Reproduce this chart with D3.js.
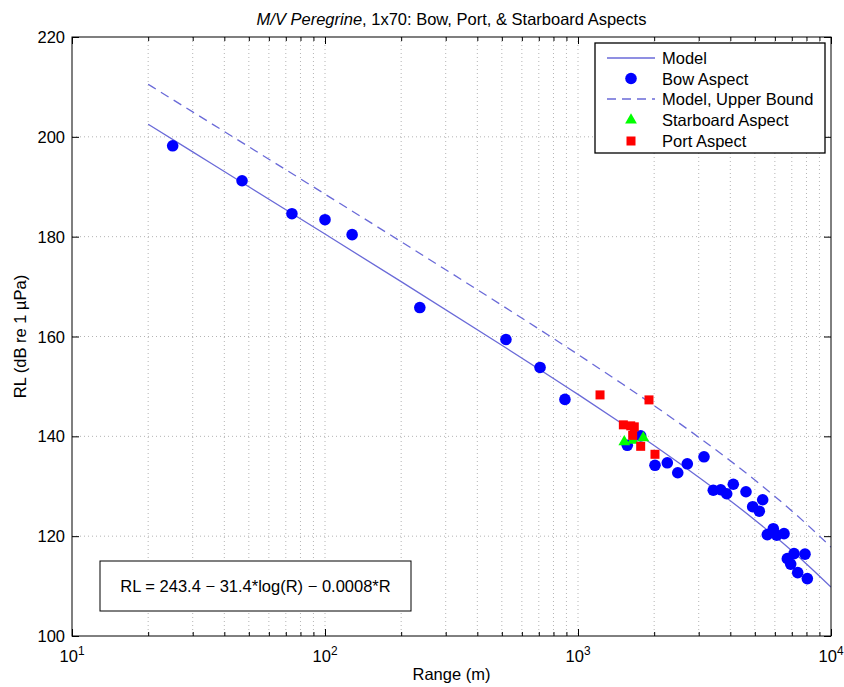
<!DOCTYPE html>
<html><head><meta charset="utf-8">
<script src="https://cdn.jsdelivr.net/npm/d3@7"></script>
<style>body{margin:0;background:#fff}svg{display:block}text{font-family:"Liberation Sans",Arial,Helvetica,sans-serif;fill:#000}</style>
</head><body><svg id="c" width="844" height="687"></svg>
<script>
// ---- data ----
const titleItalic = "M/V Peregrine";
const titleRest = ", 1x70: Bow, Port, & Starboard Aspects";
const xLabel = "Range (m)";
const yLabel = "RL (dB re 1 µPa)";
const equation = "RL = 243.4 \u2212 31.4*log(R) \u2212 0.0008*R";
const legendLabels = ["Model", "Bow Aspect", "Model, Upper Bound", "Starboard Aspect", "Port Aspect"];
const yTicks = [100, 120, 140, 160, 180, 200, 220];
const xMajorTicks = [10, 100, 1000, 10000];
const xTickExponents = ["1", "2", "3", "4"];

const modelRange = [20, 30, 50, 100, 200, 500, 1000, 1500, 2000, 2500, 3000, 4000, 5000, 6000, 7000, 8000, 10000];
const modelRL    = [202.53, 196.99, 190.01, 180.52, 170.99, 158.25, 148.40, 142.47, 138.15, 134.71, 131.82, 127.10, 123.25, 119.97, 117.06, 114.44, 109.80];
const upperRL    = [210.53, 204.99, 198.01, 188.52, 178.99, 166.25, 156.40, 150.47, 146.15, 142.71, 139.82, 135.10, 131.25, 127.97, 125.06, 122.44, 117.80];

const bowRange = [25, 47, 74, 100, 128, 237, 519, 708, 888, 1566, 1769, 2015, 2254, 2479, 2704, 3148, 3425, 3665, 3870, 4110, 4613, 4903, 5206, 5370, 5601, 5913, 6101, 6521, 6720, 7142, 7893, 6930, 7386, 8060];
const bowRL    = [198.2, 191.2, 184.6, 183.4, 180.4, 165.8, 159.4, 153.8, 147.4, 138.2, 140.1, 134.2, 134.7, 132.7, 134.5, 135.9, 129.2, 129.3, 128.5, 130.4, 128.9, 125.9, 125.0, 127.3, 120.3, 121.5, 120.2, 120.5, 115.5, 116.5, 116.4, 114.4, 112.7, 111.5];

const starRange = [1524, 1650, 1812];
const starRL    = [138.9, 139.2, 139.7];

const portRange = [1222, 1908, 1511, 1616, 1669, 1645, 1769, 2015];
const portRL    = [148.3, 147.3, 142.3, 142.1, 141.9, 140.2, 138.0, 136.4];

// ---- layout ----
const L = 72, R = 831, T = 37, B = 636;
const FS = 16.5;
const lineColor = "#6a6ad8";
const svg = d3.select("#c");
const x = d3.scaleLog().domain([10, 10000]).range([L, R]);
const y = d3.scaleLinear().domain([100, 220]).range([B, T]);

// minor tick values
const xMinor = [];
for (let d = 10; d < 10000; d *= 10) for (let k = 2; k <= 9; k++) xMinor.push(d * k);

// grid
const grid = svg.append("g").attr("stroke", "#b4b4b4").attr("stroke-width", 1).attr("stroke-dasharray", "1,3");
xMinor.concat(xMajorTicks.slice(1, -1)).forEach(v => {
  grid.append("line").attr("x1", x(v)).attr("x2", x(v)).attr("y1", T).attr("y2", B);
});
yTicks.slice(1, -1).forEach(v => {
  grid.append("line").attr("x1", L).attr("x2", R).attr("y1", y(v)).attr("y2", y(v));
});

// axes with d3 axis generators (ticks inward)
const axB = d3.axisBottom(x).tickValues(xMajorTicks).tickSize(-7).tickFormat("");
const axT = d3.axisTop(x).tickValues(xMajorTicks).tickSize(-7).tickFormat("");
const axBm = d3.axisBottom(x).tickValues(xMinor).tickSize(-4).tickFormat("");
const axTm = d3.axisTop(x).tickValues(xMinor).tickSize(-4).tickFormat("");
const axL = d3.axisLeft(y).tickValues(yTicks).tickSize(-7).tickFormat("");
const axR = d3.axisRight(y).tickValues(yTicks).tickSize(-7).tickFormat("");
function styleAxis(g) { g.select(".domain").remove(); g.selectAll("line").attr("stroke", "#000"); }
svg.append("g").attr("transform", `translate(0,${B})`).call(axB).call(styleAxis);
svg.append("g").attr("transform", `translate(0,${T})`).call(axT).call(styleAxis);
svg.append("g").attr("transform", `translate(0,${B})`).call(axBm).call(styleAxis);
svg.append("g").attr("transform", `translate(0,${T})`).call(axTm).call(styleAxis);
svg.append("g").attr("transform", `translate(${L},0)`).call(axL).call(styleAxis);
svg.append("g").attr("transform", `translate(${R},0)`).call(axR).call(styleAxis);

// tick labels
yTicks.forEach(v => {
  svg.append("text").attr("x", L - 7).attr("y", y(v) + 6).attr("text-anchor", "end")
    .attr("font-size", FS).text(v);
});
xMajorTicks.forEach((v, i) => {
  const t = svg.append("text").attr("x", x(v)).attr("y", B + 26).attr("text-anchor", "middle").attr("font-size", FS);
  t.append("tspan").text("10");
  t.append("tspan").attr("dy", -7).attr("font-size", FS * 0.72).text(xTickExponents[i]);
});

// axis labels & title
svg.append("text").attr("x", (L + R) / 2).attr("y", 680).attr("text-anchor", "middle").attr("font-size", FS).text(xLabel);
svg.append("text").attr("transform", `translate(26,${(T + B) / 2}) rotate(-90)`).attr("text-anchor", "middle")
  .attr("font-size", FS).text(yLabel);
const title = svg.append("text").attr("x", (L + R) / 2).attr("y", 25).attr("text-anchor", "middle").attr("font-size", FS);
title.append("tspan").attr("font-style", "italic").text(titleItalic);
title.append("tspan").text(titleRest);

// plot clip
svg.append("clipPath").attr("id", "clip").append("rect").attr("x", L).attr("y", T).attr("width", R - L).attr("height", B - T);
const plot = svg.append("g").attr("clip-path", "url(#clip)");

const line = d3.line().x(d => x(d[0])).y(d => y(d[1])).curve(d3.curveMonotoneX);
const modelPts = modelRange.map((r, i) => [r, modelRL[i]]);
const upperPts = modelRange.map((r, i) => [r, upperRL[i]]);

// series in legend order
plot.append("path").attr("d", line(modelPts)).attr("fill", "none").attr("stroke", lineColor).attr("stroke-width", 1.3);
plot.selectAll("circle.bow").data(bowRange.map((r, i) => [r, bowRL[i]])).join("circle")
  .attr("class", "bow").attr("cx", d => x(d[0])).attr("cy", d => y(d[1])).attr("r", 5.8).attr("fill", "#0000ff");
plot.append("path").attr("d", line(upperPts)).attr("fill", "none").attr("stroke", lineColor)
  .attr("stroke-width", 1.3).attr("stroke-dasharray", "9,6");
const tri = d3.symbol().type(d3.symbolTriangle).size(60);
plot.selectAll("path.star").data(starRange.map((r, i) => [r, starRL[i]])).join("path")
  .attr("class", "star").attr("d", tri).attr("transform", d => `translate(${x(d[0])},${y(d[1])})`).attr("fill", "#00ff00");
plot.selectAll("rect.port").data(portRange.map((r, i) => [r, portRL[i]])).join("rect")
  .attr("class", "port").attr("x", d => x(d[0]) - 4.5).attr("y", d => y(d[1]) - 4.5).attr("width", 9).attr("height", 9).attr("fill", "#ff0000");

// axes box
svg.append("rect").attr("x", L).attr("y", T).attr("width", R - L).attr("height", B - T)
  .attr("fill", "none").attr("stroke", "#000").attr("stroke-width", 1);

// legend
const lg = svg.append("g");
lg.append("rect").attr("x", 595).attr("y", 43).attr("width", 230).attr("height", 110)
  .attr("fill", "#fff").attr("stroke", "#000").attr("stroke-width", 1.3);
const rowY = [58, 78.5, 99, 120, 141];
legendLabels.forEach((lab, i) => {
  lg.append("text").attr("x", 662).attr("y", rowY[i] + 6).attr("font-size", FS).text(lab);
});
lg.append("line").attr("x1", 607).attr("x2", 655).attr("y1", rowY[0]).attr("y2", rowY[0]).attr("stroke", lineColor).attr("stroke-width", 1.3);
lg.append("circle").attr("cx", 631).attr("cy", rowY[1]).attr("r", 5.8).attr("fill", "#0000ff");
lg.append("line").attr("x1", 607).attr("x2", 655).attr("y1", rowY[2]).attr("y2", rowY[2]).attr("stroke", lineColor).attr("stroke-width", 1.3).attr("stroke-dasharray", "9,6");
lg.append("path").attr("d", tri).attr("transform", `translate(631,${rowY[3]})`).attr("fill", "#00ff00");
lg.append("rect").attr("x", 626.5).attr("y", rowY[4] - 4.5).attr("width", 9).attr("height", 9).attr("fill", "#ff0000");

// equation box
svg.append("rect").attr("x", 100).attr("y", 561).attr("width", 311).attr("height", 50)
  .attr("fill", "#fff").attr("stroke", "#000").attr("stroke-width", 1);
svg.append("text").attr("x", 255.5).attr("y", 592).attr("text-anchor", "middle").attr("font-size", FS).text(equation);
</script></body></html>
